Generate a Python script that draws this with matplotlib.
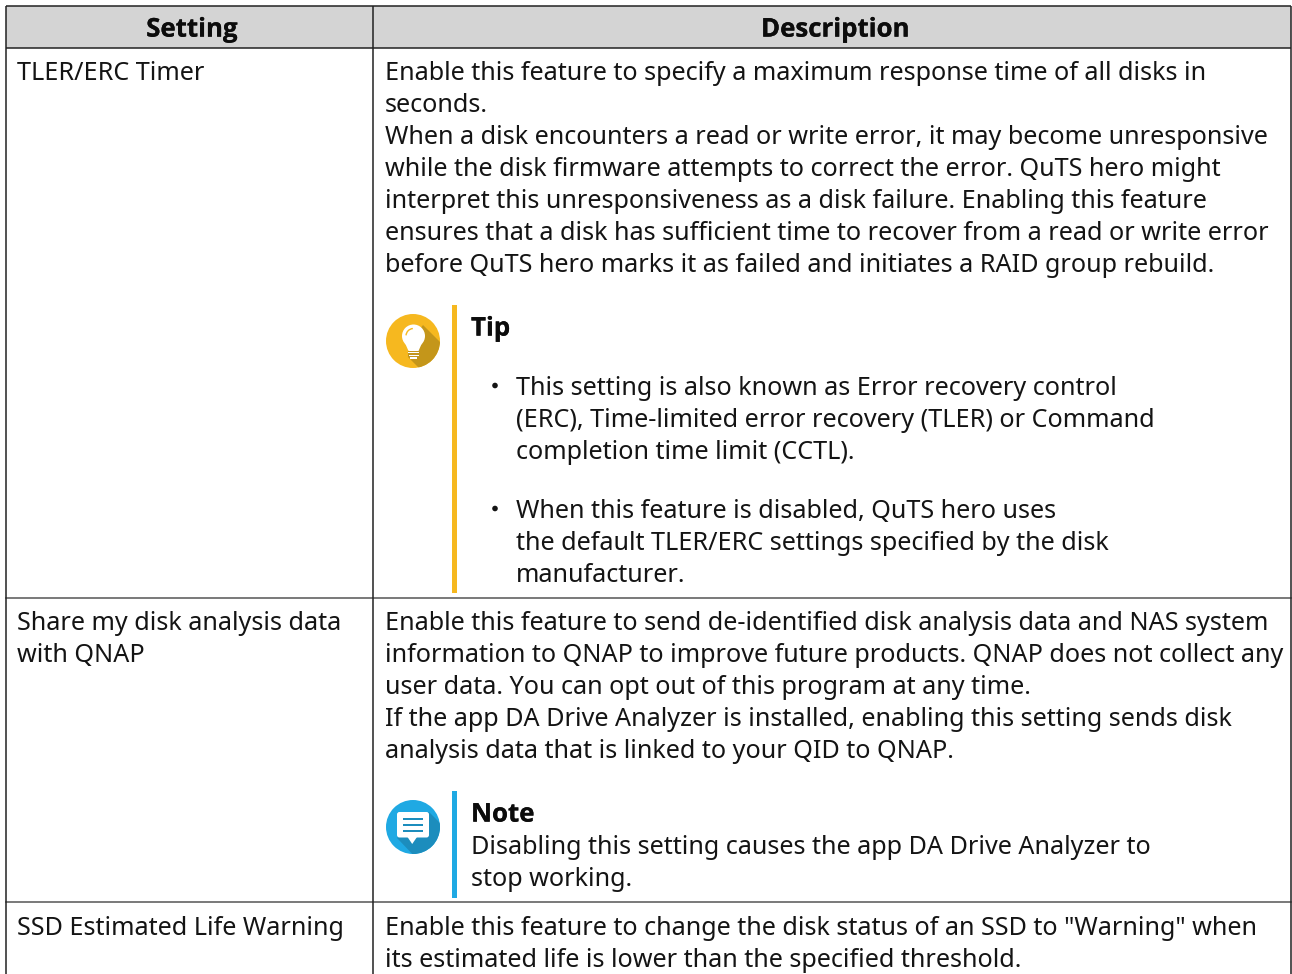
import matplotlib
matplotlib.use("Agg")
import matplotlib.pyplot as plt
import matplotlib.patheffects as pe
from matplotlib.patches import Circle, Polygon, Rectangle, FancyBboxPatch, Arc

headers = ["Setting", "Description"]
settings = [["TLER/ERC Timer"],
            ["Share my disk analysis data", "with QNAP"],
            ["SSD Estimated Life Warning"]]
desc_1 = ["Enable this feature to specify a maximum response time of all disks in",
          "seconds.",
          "When a disk encounters a read or write error, it may become unresponsive",
          "while the disk firmware attempts to correct the error. QuTS hero might",
          "interpret this unresponsiveness as a disk failure. Enabling this feature",
          "ensures that a disk has sufficient time to recover from a read or write error",
          "before QuTS hero marks it as failed and initiates a RAID group rebuild."]
tip_title = "Tip"
tip_1 = ["This setting is also known as Error recovery control",
         "(ERC), Time-limited error recovery (TLER) or Command",
         "completion time limit (CCTL)."]
tip_2 = ["When this feature is disabled, QuTS hero uses",
         "the default TLER/ERC settings specified by the disk",
         "manufacturer."]
desc_2 = ["Enable this feature to send de-identified disk analysis data and NAS system",
          "information to QNAP to improve future products. QNAP does not collect any",
          "user data. You can opt out of this program at any time.",
          "If the app DA Drive Analyzer is installed, enabling this setting sends disk",
          "analysis data that is linked to your QID to QNAP."]
note_title = "Note"
note_body = ["Disabling this setting causes the app DA Drive Analyzer to",
             "stop working."]
desc_3 = ["Enable this feature to change the disk status of an SSD to \"Warning\" when",
          "its estimated life is lower than the specified threshold."]

W, H = 1292, 974
FS = 18.12
PITCH = 32
INK = "#141414"
BOLD = dict(fontsize=18.6, fontweight="bold", family=["Open Sans", "Noto Sans"], color="#0c0c0c", va="baseline",
            path_effects=[pe.withStroke(linewidth=0.15, foreground="#0c0c0c")])
plt.rcParams["font.family"] = ["Noto Sans", "DejaVu Sans"]
fig = plt.figure(figsize=(W / 100, H / 100), dpi=100)
ax = fig.add_axes([0, 0, 1, 1])
ax.set_xlim(0, W); ax.set_ylim(H, 0); ax.axis("off")

def block(lines, x, y, **kw):
    for i, s in enumerate(lines):
        ax.text(x, y + i * PITCH, s, fontsize=FS, color=INK, va="baseline", ha="left", **kw)

# table frame
ax.add_patch(Rectangle((6, 6), 1285, 42, fc="#d4d4d4", ec="none", zorder=0))
LINE = dict(color="#222222", lw=1.1, solid_capstyle="butt", zorder=1)
ax.plot([6, 1291], [6, 6], **LINE)
ax.plot([6, 1291], [48, 48], **LINE)
ax.plot([6, 1291], [598, 598], color="#555555", lw=1.1, zorder=1)
ax.plot([6, 1291], [902, 902], color="#555555", lw=1.1, zorder=1)
for xx in (6, 373, 1291):
    ax.plot([xx, xx], [6, H], **LINE)

ax.text(192, 36.6, headers[0], ha="center", **BOLD)
ax.text(835.5, 36.6, headers[1], ha="center", **BOLD)

block(settings[0], 16.8, 79.6)
block(settings[1], 16.8, 629.6)
block(settings[2], 16.8, 934.6)

block(desc_1, 384.7, 79.6)
block(desc_2, 384.7, 629.6)
block(desc_3, 384.7, 934.6)

# tip
ax.add_patch(Rectangle((452, 305), 5, 288, fc="#f6b81f", ec="none"))
ax.text(471, 335.6, tip_title, **BOLD)
block(tip_1, 516, 394.6)
block(tip_2, 516, 517.6)
ax.add_patch(Circle((495, 385.5), 2.8, fc=INK, ec="none"))
ax.add_patch(Circle((495, 508.5), 2.8, fc=INK, ec="none"))

# note
ax.add_patch(Rectangle((452, 791), 5, 107, fc="#1fa9e3", ec="none"))
ax.text(471, 821.6, note_title, **BOLD)
block(note_body, 471, 853.6)

# tip icon
cx, cy, r = 413, 341, 27
c = Circle((cx, cy), r, fc="#f6b81f", ec="none", zorder=2)
ax.add_patch(c)
sh = Polygon([(423, 325), (445, 347), (445, 372), (423, 372), (408, 357), (408, 345)],
             closed=True, fc="#c4961a", ec="none", zorder=3)
ax.add_patch(sh); sh.set_clip_path(c)
ax.add_patch(Circle((413.5, 336), 11.5, fc="white", ec="none", zorder=4))
ax.add_patch(Polygon([(405, 343), (422, 343), (418.5, 351), (408.5, 351)],
                     fc="white", ec="none", zorder=4))
for y0, hw in ((351.5, 5.5), (354.5, 5.0), (357, 3.2)):
    ax.add_patch(Rectangle((413.5 - hw, y0), 2 * hw, 1.9, fc="white", ec="none", zorder=4))
ax.add_patch(Arc((413.5, 336), 15, 15, theta1=185, theta2=265, ec="#f6b81f", lw=1.0, zorder=5))

# note icon
cy2 = 827
c2 = Circle((cx, cy2), r, fc="#1fa9e3", ec="none", zorder=2)
ax.add_patch(c2)
sh2 = Polygon([(429, 812), (446, 829), (446, 862), (420, 862), (397, 838)],
              closed=True, fc="#1c8dbd", ec="none", zorder=3)
ax.add_patch(sh2); sh2.set_clip_path(c2)
ax.add_patch(FancyBboxPatch((397, 812), 32, 25.5, boxstyle="round,pad=0,rounding_size=2.5",
                            fc="white", ec="none", zorder=4))
ax.add_patch(Polygon([(407.5, 837), (417, 837), (412.2, 844)], fc="white", ec="none", zorder=4))
for y0 in (818.3, 824.3, 830.3):
    ax.add_patch(Rectangle((403, y0), 20, 1.6, fc="#1c8dbd", ec="none", zorder=5))

fig.savefig("out.png", dpi=100, facecolor="white")
